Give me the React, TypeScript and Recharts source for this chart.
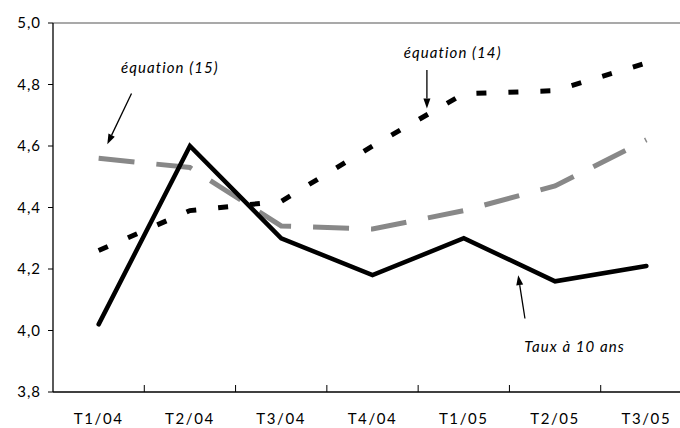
import React from 'react';
import { LineChart, Line, XAxis, YAxis, ReferenceLine, ReferenceDot, Label } from 'recharts';

const categories = ['T1/04', 'T2/04', 'T3/04', 'T4/04', 'T1/05', 'T2/05', 'T3/05'];
const tauxDixAns = [4.02, 4.6, 4.3, 4.18, 4.3, 4.16, 4.21];
const equation14 = [4.26, 4.39, 4.42, 4.6, 4.77, 4.78, 4.87];
const equation15 = [4.56, 4.53, 4.34, 4.33, 4.39, 4.47, 4.62];
const yTicks = [3.8, 4.0, 4.2, 4.4, 4.6, 4.8, 5.0];
// labels on whole positions, tick marks between categories
const xTicks = [0, 0.5, 1, 1.5, 2, 2.5, 3, 3.5, 4, 4.5, 5, 5.5, 6, 6.5];

const data = categories.map((label, i) => ({
  i,
  label,
  taux: tauxDixAns[i],
  eq14: equation14[i],
  eq15: equation15[i],
}));

const FONT = 'Lato, "Open Sans", sans-serif';

const XTick = (props: any) => {
  const { x, y, payload } = props;
  const v = payload.value as number;
  if (Number.isInteger(v)) {
    return (
      <text x={x} y={y + 32} textAnchor="middle" fontSize={15} fill="#000" letterSpacing={1.6} fontFamily={FONT}>
        {categories[v]}
      </text>
    );
  }
  return <line x1={x} y1={y} x2={x} y2={y - 7} stroke="#000" strokeWidth={1} />;
};

const Arrow = (props: any) => {
  const { x1, y1, x2, y2 } = props;
  const dx = x2 - x1;
  const dy = y2 - y1;
  const len = Math.sqrt(dx * dx + dy * dy) || 1;
  const ux = dx / len;
  const uy = dy / len;
  const head = 10;
  const half = 3.5;
  const bx = x2 - ux * head;
  const by = y2 - uy * head;
  const pts = `${x2},${y2} ${bx - uy * half},${by + ux * half} ${bx + uy * half},${by - ux * half}`;
  return (
    <g>
      <line x1={x1} y1={y1} x2={bx} y2={by} stroke="#000" strokeWidth={1.3} />
      <polygon points={pts} fill="#000" />
    </g>
  );
};

const annotationStyle = {
  fontSize: 15,
  fontStyle: 'italic',
  fill: '#000',
  letterSpacing: 1.1,
  fontFamily: FONT,
};

export default function App() {
  return (
    <div
      style={{
        position: 'absolute',
        left: 0,
        top: 0,
        width: 680,
        height: 428,
        overflow: 'hidden',
        background: '#fff',
        fontFamily: FONT,
      }}
    >
      <LineChart width={700} height={428} data={data} margin={{ top: 23, right: 8, bottom: 0, left: 0 }}>
        <XAxis
          dataKey="i"
          type="number"
          domain={[-0.5, 6.5]}
          ticks={xTicks}
          interval={0}
          tick={<XTick />}
          tickLine={false}
          tickSize={0}
          tickMargin={0}
          height={36}
          axisLine={{ stroke: '#000', strokeWidth: 1.3 }}
        />
        <YAxis
          type="number"
          domain={[3.8, 5.0]}
          ticks={yTicks}
          interval={0}
          width={53}
          tickFormatter={(v: number) => v.toFixed(1).replace('.', ',')}
          tick={{ fill: '#000', fontSize: 15, fontFamily: FONT, letterSpacing: 1 }}
          tickSize={5}
          tickMargin={7}
          tickLine={{ stroke: '#000' }}
          axisLine={{ stroke: '#000', strokeWidth: 1.3 }}
        />
        <ReferenceLine y={5.0} stroke="#8c8c8c" strokeWidth={1.5} />
        <Line dataKey="eq15" stroke="#888888" strokeWidth={5} strokeDasharray="36 22" dot={false} isAnimationActive={false} />
        <Line dataKey="eq14" stroke="#000" strokeWidth={5} strokeDasharray="10 22" dot={false} isAnimationActive={false} />
        <Line dataKey="taux" stroke="#000" strokeWidth={4.5} strokeLinecap="round" dot={false} isAnimationActive={false} />

        <ReferenceLine segment={[{ x: 0.36, y: 4.771 }, { x: 0.095, y: 4.606 }]} shape={<Arrow />} />
        <ReferenceLine segment={[{ x: 3.596, y: 4.847 }, { x: 3.596, y: 4.722 }]} shape={<Arrow />} />
        <ReferenceLine segment={[{ x: 4.67, y: 4.039 }, { x: 4.596, y: 4.18 }]} shape={<Arrow />} />

        <ReferenceDot x={0.78} y={4.854} r={0} fill="none" stroke="none">
          <Label value="équation (15)" position="center" {...annotationStyle} />
        </ReferenceDot>
        <ReferenceDot x={3.878} y={4.904} r={0} fill="none" stroke="none">
          <Label value="équation (14)" position="center" {...annotationStyle} />
        </ReferenceDot>
        <ReferenceDot x={5.214} y={3.949} r={0} fill="none" stroke="none">
          <Label value="Taux à 10 ans" position="center" {...annotationStyle} />
        </ReferenceDot>
      </LineChart>
    </div>
  );
}
